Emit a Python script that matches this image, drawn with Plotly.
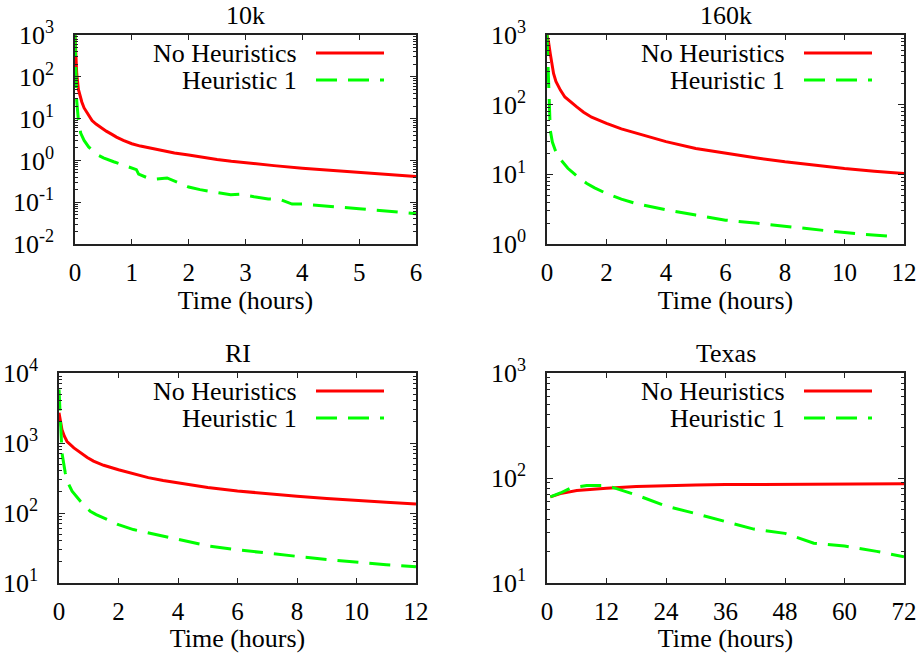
import plotly.graph_objects as go

W, H = 922, 653

# ---------------- data ----------------
series_names = ["No Heuristics", "Heuristic 1"]

# 10k
t_10k_nh = [0, 0.01, 0.03, 0.06, 0.09, 0.12, 0.16, 0.2, 0.25, 0.3, 0.37, 0.44, 0.55, 0.65, 0.73, 0.85, 1.0, 1.15, 1.3, 1.5, 1.75, 2.0, 2.25, 2.5, 2.75, 3.0, 3.5, 4.0, 4.5, 5.0, 5.5, 6.0]
v_10k_nh = [1000, 400, 120, 50, 33, 25, 18, 14.5, 11.2, 9, 7.4, 6.3, 5.0, 4.2, 3.6, 3.0, 2.5, 2.2, 2.0, 1.7, 1.5, 1.35, 1.18, 1.05, 0.95, 0.87, 0.75, 0.65, 0.58, 0.5, 0.45, 0.41]
t_10k_h1 = [0, 0.01, 0.03, 0.06, 0.1, 0.16, 0.24, 0.38, 0.5, 0.68, 0.85, 1.0, 1.08, 1.12, 1.26, 1.44, 1.62, 1.8, 2.0, 2.2, 2.44, 2.5, 2.74, 2.9, 3.15, 3.4, 3.62, 3.75, 3.82, 4.03, 4.3, 4.56, 5.0, 5.44, 5.74, 6.0]
v_10k_h1 = [1000, 150, 27, 9, 4.5, 3.0, 2.1, 1.4, 1.15, 0.93, 0.78, 0.65, 0.6, 0.47, 0.39, 0.36, 0.38, 0.3, 0.23, 0.2, 0.18, 0.17, 0.15, 0.155, 0.135, 0.12, 0.115, 0.1, 0.09, 0.09, 0.085, 0.078, 0.07, 0.063, 0.058, 0.053]

# 160k
t_160k_nh = [0, 0.05, 0.11, 0.22, 0.3, 0.45, 0.6, 0.78, 1.0, 1.23, 1.5, 2, 2.5, 3, 3.5, 4, 5, 6, 7, 8, 9, 10, 11, 12]
v_160k_nh = [1000, 800, 540, 280, 215, 162, 129, 110, 93, 78, 66, 54, 45, 39, 34, 29.5, 23.5, 20, 17.3, 15.1, 13.5, 12.1, 11.1, 10.3]
t_160k_h1 = [0, 0.03, 0.06, 0.11, 0.18, 0.28, 0.4, 0.56, 0.7, 0.9, 1.1, 1.34, 1.6, 2, 2.5, 3, 3.5, 4, 5, 6, 7, 8, 9.4, 10.5, 11.75]
v_160k_h1 = [1000, 400, 115, 43, 29, 22, 17.5, 14.4, 12.2, 10.3, 8.7, 7.4, 6.4, 5.3, 4.4, 3.8, 3.4, 3.1, 2.6, 2.2, 2.0, 1.78, 1.55, 1.39, 1.27]

# RI
t_ri_nh = [0, 0.05, 0.1, 0.18, 0.27, 0.5, 0.72, 0.95, 1.16, 1.5, 2, 2.5, 3, 3.5, 4, 5, 6, 7, 8, 9, 10, 11, 12]
v_ri_nh = [2700, 2000, 1550, 1250, 1050, 850, 720, 620, 550, 480, 415, 360, 320, 292, 270, 232, 206, 188, 174, 161, 150, 142, 135]
t_ri_h1 = [0, 0.04, 0.1, 0.21, 0.32, 0.44, 0.58, 0.72, 0.88, 1.05, 1.25, 1.5, 2, 2.5, 3, 3.5, 4, 5, 6, 7, 8, 9, 10, 11, 12]
v_ri_h1 = [5800, 2150, 720, 375, 260, 205, 170, 147, 124, 106, 95, 85, 68, 58, 52, 46.5, 41.5, 34, 29.8, 26.5, 24, 21.7, 19.7, 18.2, 17]

# Texas
t_tx_nh = [0.67, 2.7, 6, 9, 12, 18, 24, 30, 36, 48, 60, 72]
v_tx_nh = [66, 71, 76, 78.5, 80, 83, 85, 86, 86.5, 87, 87.5, 88]
t_tx_h1 = [0.67, 2.7, 4.7, 8, 11.4, 13.4, 18, 24, 29.6, 36, 41.7, 48, 53.8, 60, 66.5, 72]
v_tx_h1 = [66, 72, 80, 85, 85, 81, 69, 54, 46.3, 38.7, 32.6, 29.7, 23.9, 22.5, 20, 17.8]

titles = ["10k", "160k", "RI", "Texas"]
x_label = "Time (hours)"

# ---------------- layout ----------------
FONT = "Liberation Serif"
FS = 26
TFS = 25
RED = "#ff0000"
GREEN = "#00ff00"
DASH = "21px,11px"

# plot-area boxes in pixels (left, top, right, bottom)
boxes = [(75, 35, 416, 244), (547, 35, 904, 244), (59, 373, 416, 583), (547, 373, 904, 583)]
x_ranges = [(0, 6), (0, 12), (0, 12), (0, 72)]
x_dticks = [1, 2, 2, 12]
y_decades = [(-2, 3), (0, 3), (1, 4), (1, 3)]

data = [
    (t_10k_nh, v_10k_nh, t_10k_h1, v_10k_h1),
    (t_160k_nh, v_160k_nh, t_160k_h1, v_160k_h1),
    (t_ri_nh, v_ri_nh, t_ri_h1, v_ri_h1),
    (t_tx_nh, v_tx_nh, t_tx_h1, v_tx_h1),
]

fig = go.Figure()
annotations = []
shapes = []

for i, (box, (tn, vn, th, vh)) in enumerate(zip(boxes, data)):
    k = "" if i == 0 else str(i + 1)
    xa, ya = "x" + k, "y" + k
    fig.add_trace(go.Scatter(x=tn, y=vn, mode="lines", name=series_names[0],
                             line=dict(color=RED, width=3), xaxis=xa, yaxis=ya, showlegend=False))
    fig.add_trace(go.Scatter(x=th, y=vh, mode="lines", name=series_names[1],
                             line=dict(color=GREEN, width=3, dash=DASH), xaxis=xa, yaxis=ya, showlegend=False))
    l, t, r, b = box
    pw, ph = r - l, b - t
    lo, hi = y_decades[i]
    tickvals = [10 ** e for e in range(lo, hi + 1)]
    ticktext = ["10<sup>%d</sup>" % e for e in range(lo, hi + 1)]
    common = dict(showline=True, linecolor="#222222", linewidth=1.5, mirror="allticks",
                  ticks="inside", tickcolor="#222222", tickwidth=1, showgrid=False, zeroline=False,
                  automargin=False)
    fig.update_layout(**{
        "xaxis" + k: dict(domain=[l / W, r / W], anchor=ya, range=list(x_ranges[i]),
                          tickmode="linear", tick0=0, dtick=x_dticks[i], ticklen=5,
                          ticklabelstandoff=5,
                          tickfont=dict(family=FONT, size=TFS, color="black"),
                          title=dict(text=x_label, font=dict(family=FONT, size=FS, color="black"), standoff=0),
                          **common),
        "yaxis" + k: dict(domain=[1 - b / H, 1 - t / H], anchor=xa, type="log", range=[lo, hi],
                          tickmode="array", tickvals=tickvals, ticktext=ticktext, ticklen=6,
                          ticklabelstandoff=14,
                          tickfont=dict(family=FONT, size=FS, color="black"),
                          minor=dict(ticks="inside", ticklen=3, tickcolor="#222222", dtick="D1", showgrid=False),
                          **common),
    })
    # title
    annotations.append(dict(text=titles[i], xref=xa + " domain", yref=ya + " domain",
                            x=0.5, y=1 + 20 / ph, xanchor="center", yanchor="middle", showarrow=False,
                            font=dict(family=FONT, size=FS, color="black")))
    # key (text followed by line sample, gnuplot style)
    row_off = [18, 45]
    for j, (name, col, dash) in enumerate([(series_names[0], RED, "solid"), (series_names[1], GREEN, DASH)]):
        yy = 1 - row_off[j] / ph
        annotations.append(dict(text=name, xref=xa + " domain", yref=ya + " domain",
                                x=1 - 117 / pw, y=yy, xanchor="right", yanchor="middle", showarrow=False,
                                font=dict(family=FONT, size=FS, color="black")))
        shapes.append(dict(type="line", xref=xa + " domain", yref=ya + " domain",
                           x0=1 - 100 / pw, x1=1 - 32 / pw, y0=yy, y1=yy,
                           line=dict(color=col, width=3, dash=dash)))

fig.update_layout(width=W, height=H, margin=dict(l=0, r=0, t=0, b=0),
                  paper_bgcolor="white", plot_bgcolor="white",
                  annotations=annotations, shapes=shapes, showlegend=False)

fig.write_html("out.html")
